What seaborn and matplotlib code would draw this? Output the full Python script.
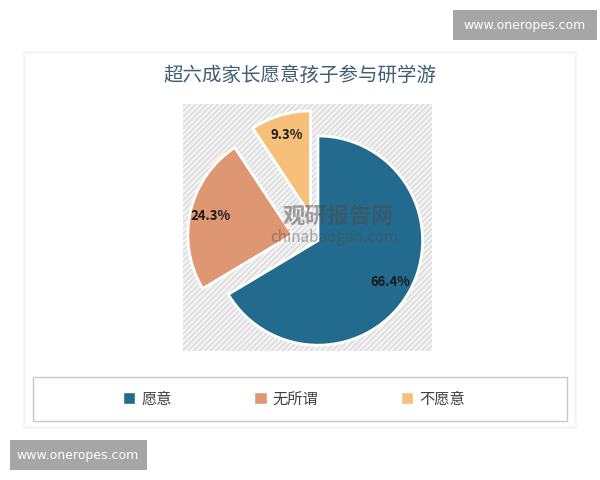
import matplotlib
matplotlib.use("Agg")
import matplotlib.pyplot as plt
from matplotlib.patches import Rectangle, Patch
import seaborn as sns

# data
categories = ["愿意", "无所谓", "不愿意"]
shares = [66.4, 24.3, 9.3]
explode = [0, 0.25, 0.25]
colors = ["#236b8e", "#df9672", "#f7c07a"]
title = "超六成家长愿意孩子参与研学游"

sns.set_theme(style="white")
plt.rcParams["font.family"] = ["Noto Sans CJK SC", "DejaVu Sans"]
plt.rcParams["hatch.linewidth"] = 0.6
plt.rcParams["hatch.color"] = "#cfcfcf"

fig = plt.figure(figsize=(6, 4.8), dpi=100)
fig.patch.set_facecolor("white")

# faint outer panel
fig.patches.append(Rectangle((24 / 600, 1 - 427 / 480), 551 / 600, 375 / 480,
                             transform=fig.transFigure, fill=False,
                             edgecolor="#f5f5f5", linewidth=2))

fig.text(0.5, 1 - 75 / 480, title, ha="center", va="center",
         fontsize=14, color="#3f5e70", fontweight="medium")

# pie area with hatched background
ax = fig.add_axes([183 / 600, 1 - 352 / 480, 249 / 600, 249 / 480])
bg = Rectangle((0, 0), 1, 1, transform=ax.transAxes, facecolor="#f1f1f1",
               edgecolor="#cfcfcf", hatch="//////", linewidth=0, zorder=0)
ax.add_patch(bg)

wedges, texts, autotexts = ax.pie(
    shares, explode=explode, colors=colors, startangle=90, counterclock=False,
    autopct="%.1f%%", pctdistance=0.8,
    wedgeprops=dict(edgecolor="white", linewidth=2),
    textprops=dict(fontsize=9.5, fontweight="bold", color="#1a1a1a"),
)
ax.set_xlim(-1.29, 1.09)
ax.set_ylim(-1.06, 1.31)
ax.set_aspect("equal")
ax.axis("off")

# watermark
ax.text(0.19, 0.22, "观研报告网", ha="center", va="center", fontsize=16,
        fontweight="bold", color="#4a4a4a", alpha=0.5, zorder=5)
ax.text(0.16, 0.03, "chinabaogao.com", ha="center", va="center", fontsize=11,
        color="#4a4a4a", alpha=0.45, zorder=5)

# legend with box
fig.patches.append(Rectangle((33 / 600, 1 - 421 / 480), 534 / 600, 44 / 480,
                             transform=fig.transFigure, fill=False,
                             edgecolor="#c8c8c8", linewidth=1))
handles = [Patch(facecolor=c, edgecolor="white") for c in colors]
fig.legend(handles, categories, loc="center", bbox_to_anchor=(0.49, 1 - 399 / 480),
           ncol=3, frameon=False, fontsize=11, handlelength=0.8, handleheight=0.8,
           handletextpad=0.4, columnspacing=5.4, labelcolor="#404040")

# site watermarks
fig.patches.append(Rectangle((453 / 600, 1 - 40 / 480), 144 / 600, 30 / 480,
                             transform=fig.transFigure, facecolor="#a6a6a6",
                             edgecolor="none"))
fig.text(525 / 600, 1 - 25 / 480, "www.oneropes.com", ha="center", va="center",
         fontsize=9, color="white", family="DejaVu Sans")
fig.patches.append(Rectangle((10 / 600, 1 - 470 / 480), 137 / 600, 30 / 480,
                             transform=fig.transFigure, facecolor="#a6a6a6",
                             edgecolor="none"))
fig.text(78 / 600, 1 - 455 / 480, "www.oneropes.com", ha="center", va="center",
         fontsize=9, color="white", family="DejaVu Sans")

fig.savefig("out.png", dpi=100)
